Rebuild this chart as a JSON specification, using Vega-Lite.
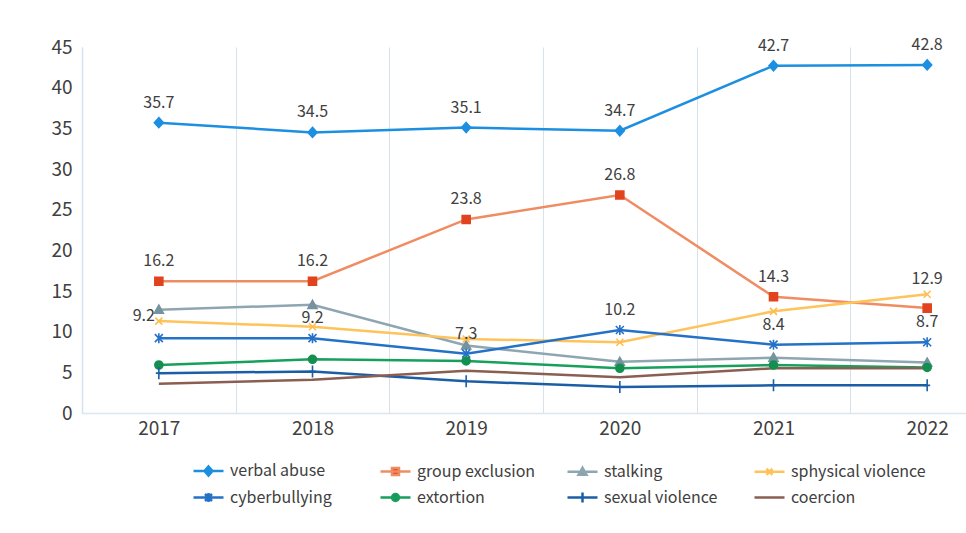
{
  "$schema": "https://vega.github.io/schema/vega-lite/v6.json",
  "width": 884,
  "height": 366,
  "autosize": {"type": "none"},
  "padding": {"left": 82, "top": 47, "right": 0, "bottom": 120},
  "background": "white",
  "config": {
    "view": {"stroke": null},
    "font": "Noto Sans CJK KR",
    "axis": {"labelFont": "Noto Sans CJK KR", "labelColor": "#404040", "ticks": false, "title": null}
  },
  "data": {"values": [
    {"series": "verbal abuse", "year": "2017", "value": 35.7},
    {"series": "verbal abuse", "year": "2018", "value": 34.5},
    {"series": "verbal abuse", "year": "2019", "value": 35.1},
    {"series": "verbal abuse", "year": "2020", "value": 34.7},
    {"series": "verbal abuse", "year": "2021", "value": 42.7},
    {"series": "verbal abuse", "year": "2022", "value": 42.8},
    {"series": "group exclusion", "year": "2017", "value": 16.2},
    {"series": "group exclusion", "year": "2018", "value": 16.2},
    {"series": "group exclusion", "year": "2019", "value": 23.8},
    {"series": "group exclusion", "year": "2020", "value": 26.8},
    {"series": "group exclusion", "year": "2021", "value": 14.3},
    {"series": "group exclusion", "year": "2022", "value": 12.9},
    {"series": "stalking", "year": "2017", "value": 12.7},
    {"series": "stalking", "year": "2018", "value": 13.3},
    {"series": "stalking", "year": "2019", "value": 8.3},
    {"series": "stalking", "year": "2020", "value": 6.3},
    {"series": "stalking", "year": "2021", "value": 6.8},
    {"series": "stalking", "year": "2022", "value": 6.2},
    {"series": "sphysical violence", "year": "2017", "value": 11.3},
    {"series": "sphysical violence", "year": "2018", "value": 10.6},
    {"series": "sphysical violence", "year": "2019", "value": 9.1},
    {"series": "sphysical violence", "year": "2020", "value": 8.7},
    {"series": "sphysical violence", "year": "2021", "value": 12.5},
    {"series": "sphysical violence", "year": "2022", "value": 14.6},
    {"series": "cyberbullying", "year": "2017", "value": 9.2},
    {"series": "cyberbullying", "year": "2018", "value": 9.2},
    {"series": "cyberbullying", "year": "2019", "value": 7.3},
    {"series": "cyberbullying", "year": "2020", "value": 10.2},
    {"series": "cyberbullying", "year": "2021", "value": 8.4},
    {"series": "cyberbullying", "year": "2022", "value": 8.7},
    {"series": "extortion", "year": "2017", "value": 5.9},
    {"series": "extortion", "year": "2018", "value": 6.6},
    {"series": "extortion", "year": "2019", "value": 6.4},
    {"series": "extortion", "year": "2020", "value": 5.5},
    {"series": "extortion", "year": "2021", "value": 5.9},
    {"series": "extortion", "year": "2022", "value": 5.6},
    {"series": "sexual violence", "year": "2017", "value": 4.9},
    {"series": "sexual violence", "year": "2018", "value": 5.1},
    {"series": "sexual violence", "year": "2019", "value": 3.9},
    {"series": "sexual violence", "year": "2020", "value": 3.2},
    {"series": "sexual violence", "year": "2021", "value": 3.4},
    {"series": "sexual violence", "year": "2022", "value": 3.4},
    {"series": "coercion", "year": "2017", "value": 3.6},
    {"series": "coercion", "year": "2018", "value": 4.1},
    {"series": "coercion", "year": "2019", "value": 5.2},
    {"series": "coercion", "year": "2020", "value": 4.4},
    {"series": "coercion", "year": "2021", "value": 5.5},
    {"series": "coercion", "year": "2022", "value": 5.5}
  ]},
  "encoding": {
    "x": {
      "field": "year", "type": "ordinal",
      "scale": {"type": "band", "range": [0, 922], "paddingInner": 0, "paddingOuter": 0},
      "axis": {"labelAngle": 0, "labelFontSize": 19, "labelPadding": 6, "grid": true, "gridColor": "#d7e2eb", "gridWidth": 1, "tickBand": "extent", "domainColor": "#dce6ee", "domainWidth": 1.5}
    },
    "y": {
      "field": "value", "type": "quantitative",
      "scale": {"domain": [0, 45], "nice": false},
      "axis": {"values": [0, 5, 10, 15, 20, 25, 30, 35, 40, 45], "labelFontSize": 19, "labelPadding": 10, "grid": false, "domainColor": "#d3e3ef", "domainWidth": 1.5}
    }
  },
  "layer": [
    {
      "mark": {"type": "line", "strokeWidth": 2.5},
      "encoding": {
        "color": {
          "field": "series", "type": "nominal",
          "scale": {
            "domain": ["verbal abuse", "group exclusion", "stalking", "sphysical violence", "cyberbullying", "extortion", "sexual violence", "coercion"],
            "range": ["#1d8fe1", "#f08c62", "#8ea6b2", "#fec35a", "#2471c8", "#17a05c", "#1c5ea6", "#8a5f52"]
          },
          "legend": {
            "orient": "none", "direction": "horizontal", "legendX": 115, "legendY": 412, "columns": 4, "title": null,
            "symbolSize": 400, "symbolStrokeWidth": 2.5, "labelFontSize": 16, "labelColor": "#404040",
            "labelFont": "Noto Sans CJK KR", "labelOffset": 10, "columnPadding": 10, "rowPadding": 5,
            "gridAlign": "all", "labelLimit": 300,
            "encode": {"symbols": {"update": {
              "shape": {"signal": "({'verbal abuse': 'M-1.5,0L1.5,0M0,-0.45L0.4,0L0,0.45L-0.4,0Z', 'group exclusion': 'M-1.5,0L1.5,0M-0.35,-0.35L0.35,-0.35L0.35,0.35L-0.35,0.35Z', 'stalking': 'M-1.5,0L1.5,0M-0.4,0.3L0,-0.4L0.4,0.3Z', 'sphysical violence': 'M-1.5,0L1.5,0M-0.3,-0.3L0.3,0.3M-0.3,0.3L0.3,-0.3', 'cyberbullying': 'M-1.5,0L1.5,0M-0.35,-0.35L0.35,0.35M-0.35,0.35L0.35,-0.35M0,-0.45L0,0.45', 'extortion': 'M-1.5,0L1.5,0M-0.35,0A0.35,0.35,0,1,0,0.35,0A0.35,0.35,0,1,0,-0.35,0Z', 'sexual violence': 'M-1.5,0L1.5,0M0,-0.5L0,0.5', 'coercion': 'M-1.5,0L1.5,0'})[datum.value]"},
              "fill": {"signal": "datum.value === 'coercion' ? scale('color', datum.value) : scale('fill', datum.value)"},
              "stroke": {"scale": "color", "field": "value"}
            }}}
          }
        }
      }
    },
    {
      "transform": [{"filter": "datum.series !== 'coercion'"}],
      "mark": {"type": "point", "filled": true, "strokeWidth": 1.6, "opacity": 1, "size": 100},
      "encoding": {
        "shape": {
          "field": "series", "type": "nominal", "legend": null,
          "scale": {
            "domain": ["verbal abuse", "group exclusion", "stalking", "sphysical violence", "cyberbullying", "extortion", "sexual violence"],
            "range": ["M0,-1L0.9,0L0,1L-0.9,0Z", "M-0.8,-0.8L0.8,-0.8L0.8,0.8L-0.8,0.8Z", "M-0.9,0.7L0,-0.9L0.9,0.7Z", "M-0.7,-0.7L0.7,0.7M-0.7,0.7L0.7,-0.7", "M-0.8,-0.8L0.8,0.8M-0.8,0.8L0.8,-0.8M0,-1L0,1", "M-0.8,0A0.8,0.8,0,1,0,0.8,0A0.8,0.8,0,1,0,-0.8,0Z", "M0,-1.2L0,1.2M-0.6,0L0.6,0"]
          }
        },
        "fill": {
          "field": "series", "type": "nominal", "legend": null,
          "scale": {
            "domain": ["verbal abuse", "group exclusion", "stalking", "sphysical violence", "cyberbullying", "extortion", "sexual violence"],
            "range": ["#1d8fe1", "#e2431f", "#7693a0", "#fdbd4f", "#2471c8", "#138f50", "#1c5ea6"]
          }
        },
        "stroke": {
          "field": "series", "type": "nominal", "legend": null,
          "scale": {
            "domain": ["verbal abuse", "group exclusion", "stalking", "sphysical violence", "cyberbullying", "extortion", "sexual violence"],
            "range": ["#1d8fe1", "#e2431f", "#7693a0", "#fdbd4f", "#2471c8", "#138f50", "#1c5ea6"]
          }
        }
      }
    },
    {
      "transform": [
        {"filter": {"field": "series", "oneOf": ["verbal abuse", "group exclusion", "cyberbullying"]}},
        {"filter": "!(datum.series === 'cyberbullying' && datum.year === '2017') && !(datum.series === 'group exclusion' && datum.year === '2022')"}
      ],
      "mark": {"type": "text", "dy": -20, "fontSize": 16, "color": "#404040", "font": "Noto Sans CJK KR"},
      "encoding": {"text": {"field": "value", "type": "quantitative", "format": ".1f"}}
    },
    {
      "transform": [
        {"filter": "datum.series === 'cyberbullying' && datum.year === '2017'"}
      ],
      "mark": {"type": "text", "dy": -22, "dx": -15, "fontSize": 16, "color": "#404040", "font": "Noto Sans CJK KR"},
      "encoding": {"text": {"field": "value", "type": "quantitative", "format": ".1f"}}
    },
    {
      "transform": [
        {"filter": "datum.series === 'group exclusion' && datum.year === '2022'"}
      ],
      "mark": {"type": "text", "dy": -29, "fontSize": 16, "color": "#404040", "font": "Noto Sans CJK KR"},
      "encoding": {"text": {"field": "value", "type": "quantitative", "format": ".1f"}}
    }
  ]
}
